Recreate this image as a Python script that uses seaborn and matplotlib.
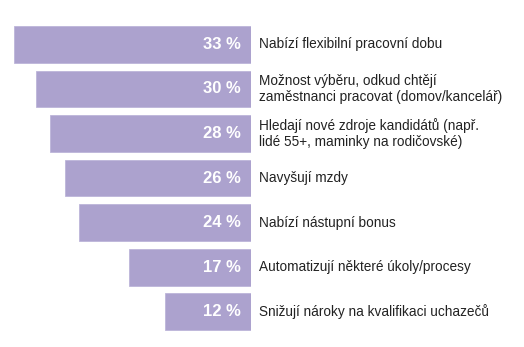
import matplotlib
matplotlib.use("Agg")
import matplotlib.pyplot as plt
import matplotlib.transforms as mtransforms
import seaborn as sns
import pandas as pd

categories = [
    "Nabízí flexibilní pracovní dobu",
    "Možnost výběru, odkud chtějí\nzaměstnanci pracovat (domov/kancelář)",
    "Hledají nové zdroje kandidátů (např.\nlidé 55+, maminky na rodičovské)",
    "Navyšují mzdy",
    "Nabízí nástupní bonus",
    "Automatizují některé úkoly/procesy",
    "Snižují nároky na kvalifikaci uchazečů",
]
values = [33, 30, 28, 26, 24, 17, 12]
value_labels = ["33 %", "30 %", "28 %", "26 %", "24 %", "17 %", "12 %"]

df = pd.DataFrame({"cat": categories, "val": values})

sns.set_theme(style="white")
plt.rcParams["font.family"] = ["Liberation Sans", "DejaVu Sans"]

fig = plt.figure(figsize=(5.24, 3.47), dpi=100)
ax = fig.add_axes([0.0, 0.038, 251 / 524, 0.936 - 0.038])

bar_color = "#ACA2CE"
sns.barplot(data=df, x="val", y="cat", orient="h", color=bar_color,
            saturation=1, width=0.83, ax=ax, edgecolor="#BDB5DA", linewidth=0.6)

ax.set_xlim(35, 0)
ax.set_ylim(6.5, -0.5)
ax.set_xlabel("")
ax.set_ylabel("")
ax.set_xticks([])
ax.set_yticks([])
for s in ax.spines.values():
    s.set_visible(False)

trans_val = mtransforms.blended_transform_factory(ax.transAxes, ax.transData)
for i, (lab, cat) in enumerate(zip(value_labels, categories)):
    ax.text(1 - 10 / 251, i, lab, transform=trans_val, ha="right", va="center",
            color="white", fontsize=12, fontweight="bold")
    ax.text(1 + 8 / 251, i, cat, transform=trans_val, ha="left", va="center",
            color="#222222", fontsize=9.8, clip_on=False, linespacing=1.2)

fig.savefig("out.png", dpi=100)
